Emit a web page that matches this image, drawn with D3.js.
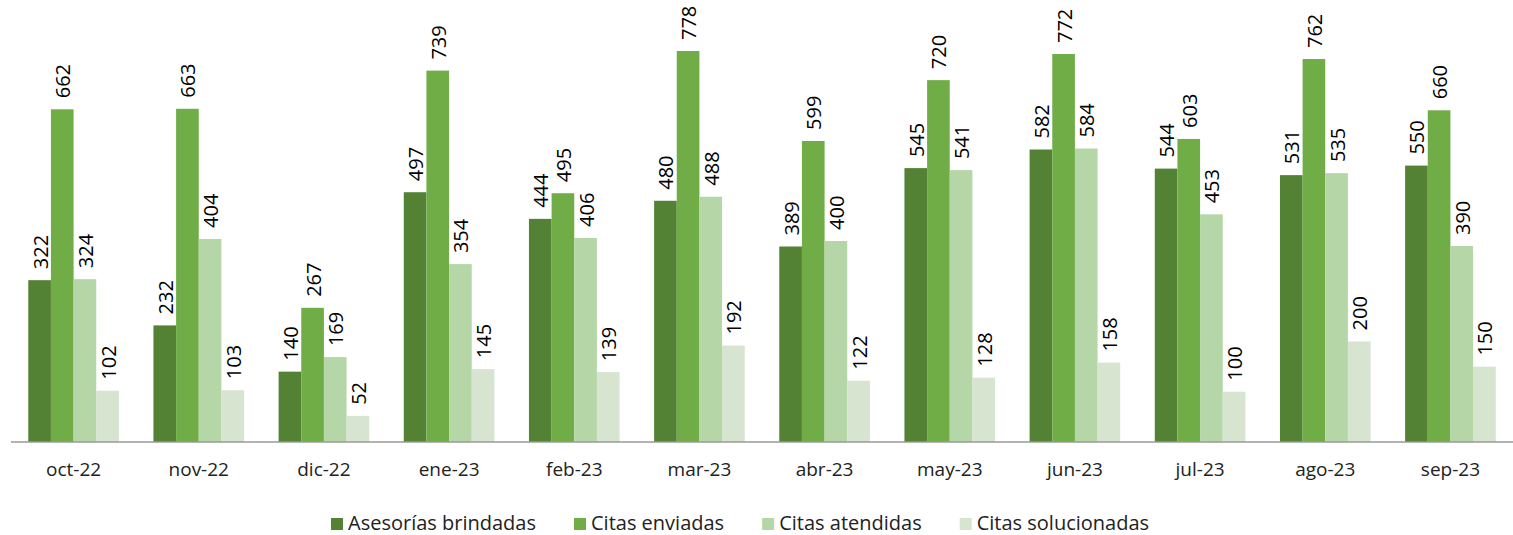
<!DOCTYPE html>
<html>
<head>
<meta charset="utf-8">
<script src="https://cdn.jsdelivr.net/npm/d3@7"></script>
<style>
  body { margin: 0; background: #fff; }
  svg text { font-family: "Open Sans", sans-serif; }
</style>
</head>
<body>
<svg id="chart" width="1513" height="535"></svg>
<script>
const months = ["oct-22", "nov-22", "dic-22", "ene-23", "feb-23", "mar-23", "abr-23", "may-23", "jun-23", "jul-23", "ago-23", "sep-23"];
const seriesNames = ["Asesorías brindadas", "Citas enviadas", "Citas atendidas", "Citas solucionadas"];
const asesorias = [322, 232, 140, 497, 444, 480, 389, 545, 582, 544, 531, 550];
const enviadas = [662, 663, 267, 739, 495, 778, 599, 720, 772, 603, 762, 660];
const atendidas = [324, 404, 169, 354, 406, 488, 400, 541, 584, 453, 535, 390];
const solucionadas = [102, 103, 52, 145, 139, 192, 122, 128, 158, 100, 200, 150];
const colors = ["#548235", "#70ad47", "#b5d7a7", "#d6e4d0"];

const allSeries = [asesorias, enviadas, atendidas, solucionadas];
const svg = d3.select("#chart");
const left = 11, right = 1513, baseY = 442;

const x0 = d3.scaleBand().domain(months).range([left, right]).paddingInner(0.276).paddingOuter(0.138);
const x1 = d3.scaleBand().domain(seriesNames).range([0, x0.bandwidth()]);
const y = d3.scaleLinear().domain([0, 778]).range([baseY, 51]);

const groups = svg.selectAll(".grp")
    .data(months)
    .enter().append("g")
    .attr("class", "grp")
    .attr("transform", d => `translate(${x0(d)},0)`);

groups.selectAll("rect")
    .data((m, i) => seriesNames.map((s, j) => ({ s, j, v: allSeries[j][i] })))
    .enter().append("rect")
    .attr("x", d => x1(d.s))
    .attr("y", d => y(d.v))
    .attr("width", x1.bandwidth())
    .attr("height", d => baseY - y(d.v))
    .attr("fill", d => colors[d.j]);

groups.selectAll("text.lbl")
    .data((m, i) => seriesNames.map((s, j) => ({ s, j, v: allSeries[j][i] })))
    .enter().append("text")
    .attr("class", "lbl")
    .attr("transform", d => `translate(${x1(d.s) + x1.bandwidth() / 2 + 8},${y(d.v) - 11}) rotate(-90)`)
    .attr("font-size", 20)
    .attr("fill", "#000")
    .text(d => d.v);

// axis
const xAxis = d3.axisBottom(x0).tickSize(0).tickPadding(21);
const ax = svg.append("g")
    .attr("transform", `translate(0,${baseY})`)
    .call(xAxis);
ax.select(".domain").attr("stroke", "#9a9a9a").attr("stroke-width", 1.5)
    .attr("d", `M${left},0H${right}`);
ax.selectAll("text").attr("font-size", 19).attr("fill", "#222")
    .style("font-family", "'Open Sans', sans-serif");

// legend
const legend = svg.append("g").attr("transform", "translate(331,530)");
let lx = 0;
seriesNames.forEach((name, j) => {
    const item = legend.append("g").attr("transform", `translate(${lx},0)`);
    item.append("rect").attr("x", 0).attr("y", -12).attr("width", 12).attr("height", 12).attr("fill", colors[j]);
    const t = item.append("text").attr("x", 17).attr("y", 0).attr("font-size", 20).attr("fill", "#222").text(name);
    lx += 17 + t.node().getComputedTextLength() + 38;
});
</script>
</body>
</html>
